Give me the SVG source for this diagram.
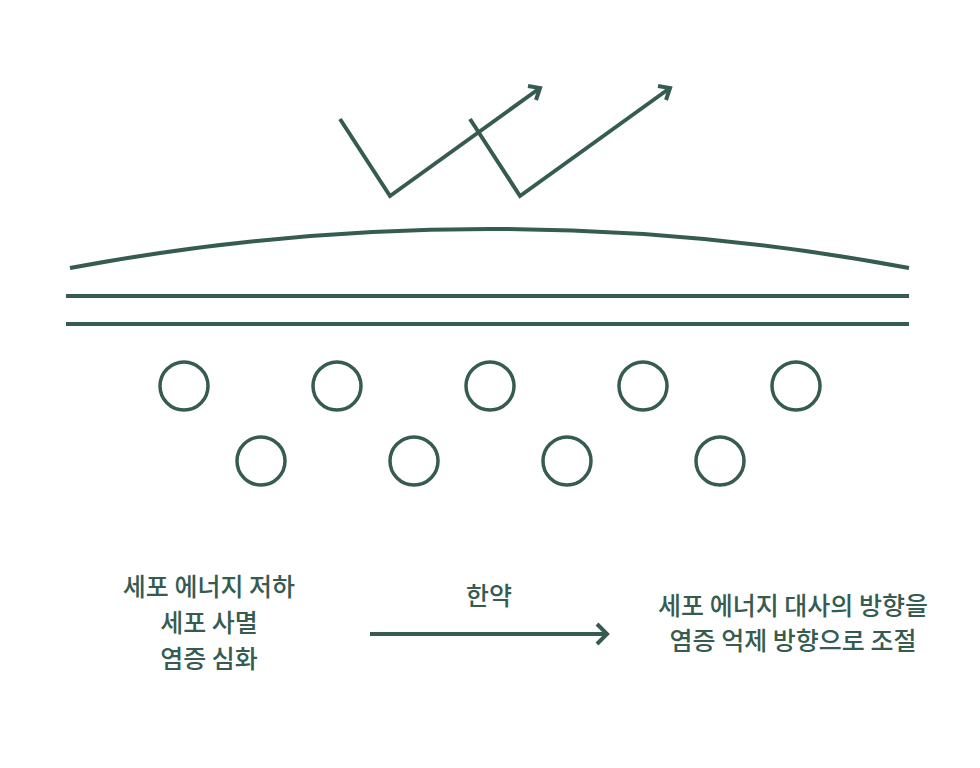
<svg xmlns="http://www.w3.org/2000/svg" width="980" height="768" viewBox="0 0 980 768">
<style>
.s{fill:none;stroke:#365b51;stroke-width:4;}
.c{fill:none;stroke:#365b51;stroke-width:3.5;}
.t{font-family:"Noto Sans CJK KR","Noto Sans",sans-serif;font-size:25px;fill:#365b51;text-anchor:middle;font-weight:500;}
</style>
<rect width="980" height="768" fill="#ffffff"/>
<g id="skin">
<path class="s" d="M70,268 A2276,2276 0 0 1 909,268"/>
<line class="s" x1="66" y1="296" x2="909" y2="296"/>
<line class="s" x1="66" y1="324" x2="909" y2="324"/>
</g>
<g id="cells">
<circle class="c" cx="184" cy="386" r="24"/>
<circle class="c" cx="337" cy="386" r="24"/>
<circle class="c" cx="490" cy="386" r="24"/>
<circle class="c" cx="643" cy="386" r="24"/>
<circle class="c" cx="796" cy="386" r="24"/>
<circle class="c" cx="261" cy="461" r="24"/>
<circle class="c" cx="414" cy="461" r="24"/>
<circle class="c" cx="567" cy="461" r="24"/>
<circle class="c" cx="720" cy="461" r="24"/>
</g>
<g id="connectors">
<path class="s" d="M340,119 L390,196 L540,88"/>
<path class="s" d="M528,86 L540,88 L536,100"/>
<path class="s" d="M470,119 L520,196 L670,88"/>
<path class="s" d="M658,86 L670,88 L666,100"/>
<line class="s" x1="370" y1="634" x2="606" y2="634"/>
<path class="s" d="M597,624 L607,634 L597,644"/>
</g>
<g id="labels">
<text class="t" x="209" y="596">세포 에너지 저하</text>
<text class="t" x="209" y="632">세포 사멸</text>
<text class="t" x="209" y="668">염증 심화</text>
<text class="t" x="489" y="605">한약</text>
<text class="t" x="793" y="615">세포 에너지 대사의 방향을</text>
<text class="t" x="793" y="650">염증 억제 방향으로 조절</text>
</g>
</svg>
